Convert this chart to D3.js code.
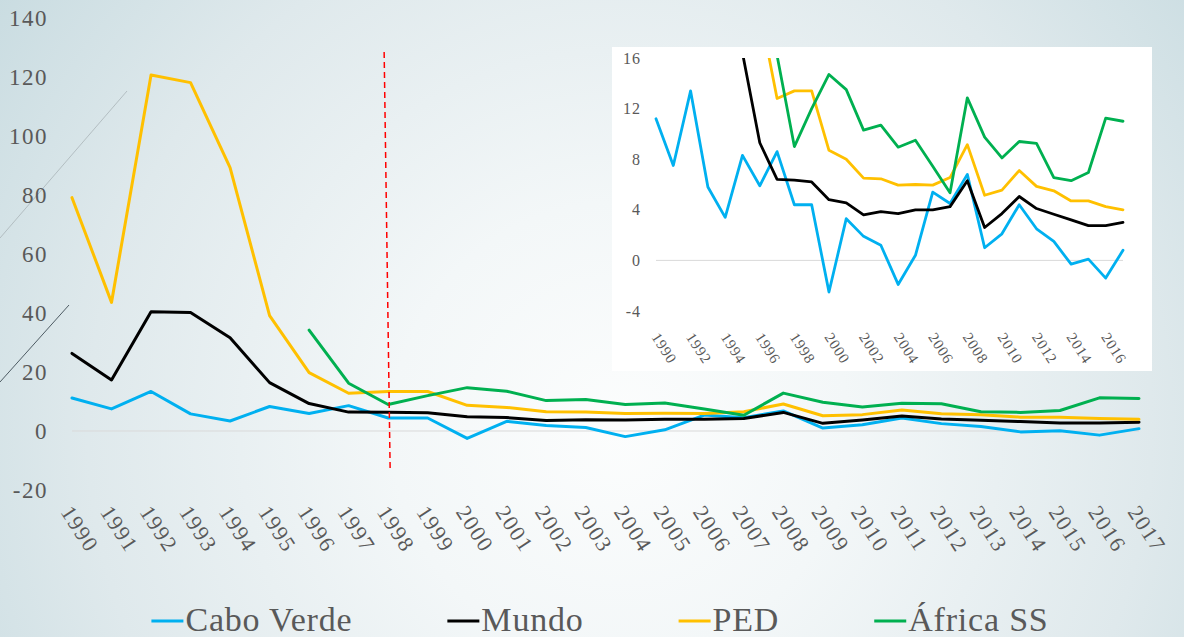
<!DOCTYPE html>
<html>
<head>
<meta charset="utf-8">
<style>
  body { margin: 0; }
  .serie { fill: none; stroke-linejoin: round; stroke-linecap: round; }
</style>
</head>
<body>
<svg id="container" width="1184" height="637"></svg>
<script src="https://cdn.jsdelivr.net/npm/d3@7/dist/d3.min.js"></script>
<script>
// anos (categorias)
const years = ["1990","1991","1992","1993","1994","1995","1996","1997","1998","1999",
               "2000","2001","2002","2003","2004","2005","2006","2007","2008","2009",
               "2010","2011","2012","2013","2014","2015","2016","2017"]

// taxa de inflação (%)
const caboVerde = [11.2, 7.5, 13.4, 5.8, 3.4, 8.3, 5.9, 8.6, 4.4, 4.4, -2.5, 3.3, 1.9, 1.2,
                   -1.9, 0.4, 5.4, 4.5, 6.8, 1.0, 2.1, 4.4, 2.5, 1.5, -0.3, 0.1, -1.4, 0.8]
const mundo = [26.3, 17.3, 40.4, 40.2, 31.6, 16.4, 9.3, 6.4, 6.35, 6.2, 4.8, 4.55, 3.6, 3.85,
               3.7, 4.0, 4.0, 4.25, 6.3, 2.6, 3.7, 5.05, 4.1, 3.65, 3.2, 2.75, 2.75, 3.0]
const ped = [79.1, 43.6, 120.7, 118.1, 89.3, 39.1, 19.8, 12.8, 13.4, 13.4, 8.7, 8.0, 6.5, 6.45,
             5.95, 6.0, 5.95, 6.55, 9.15, 5.15, 5.55, 7.1, 5.85, 5.5, 4.7, 4.7, 4.25, 4.0]
const africaSS = [null, null, null, null, null, null, 34.2, 16.2, 9.0, 12.0, 14.7, 13.5, 10.3, 10.7,
                  8.95, 9.5, 7.45, 5.35, 12.85, 9.75, 8.1, 9.4, 9.25, 6.55, 6.3, 6.95, 11.25, 11.0]

const seriesNames = ["Cabo Verde", "Mundo", "PED", "África SS"]
const seriesColors = ["#00b0f0", "#000000", "#ffc000", "#00b050"]
const seriesValues = [caboVerde, mundo, ped, africaSS]

const mainTicks = [-20, 0, 20, 40, 60, 80, 100, 120, 140]
const insetTicks = [-4, 0, 4, 8, 12, 16]
const insetYears = years.filter((d, i) => i % 2 == 0)

const serif = "'Liberation Serif'"
const grey = "#595959"

let svg = d3.select("#container")

// fundo
let defs = svg.append("defs")
let grad = defs.append("radialGradient")
    .attr("id", "bg")
    .attr("gradientUnits", "userSpaceOnUse")
    .attr("cx", 620).attr("cy", 430).attr("r", 760)
grad.append("stop").attr("offset", "0").attr("stop-color", "#fcfdfd")
grad.append("stop").attr("offset", "0.3").attr("stop-color", "#f3f7f8")
grad.append("stop").attr("offset", "0.7").attr("stop-color", "#dfe9ec")
grad.append("stop").attr("offset", "1").attr("stop-color", "#c9dce1")
svg.append("rect").attr("width", 1184).attr("height", 637).attr("fill", "url(#bg)")

// linhas decorativas do tema
svg.append("line").attr("x1", 0).attr("y1", 238).attr("x2", 127).attr("y2", 91)
    .attr("stroke", "#aab4b8").attr("stroke-width", 0.8)
svg.append("line").attr("x1", 0).attr("y1", 382).attr("x2", 69).attr("y2", 305)
    .attr("stroke", "#4d5b63").attr("stroke-width", 1)

// ---------- gráfico principal ----------
let xScale = d3.scalePoint().domain(years).range([72, 1139])
let yScale = d3.scaleLinear().domain([-20, 140]).range([490, 18])

let main = svg.append("g")

main.append("line")
    .attr("x1", xScale(years[0])).attr("x2", xScale(years[years.length - 1]))
    .attr("y1", yScale(0)).attr("y2", yScale(0))
    .attr("stroke", "#d9d9d9").attr("stroke-width", 1)

main.selectAll(".ylab").data(mainTicks).join("text")
    .attr("x", 48).attr("y", d => yScale(d)).attr("dy", "0.35em")
    .attr("text-anchor", "end").attr("font-size", 23)
    .attr("letter-spacing", 1.5)
    .style("font-family", serif).attr("fill", grey)
    .text(d => d)

main.selectAll(".xlab").data(years).join("text")
    .attr("transform", d => "translate(" + (xScale(d) - 12) + ",512) rotate(57)")
    .attr("font-size", 22).attr("letter-spacing", 1.5)
    .style("font-family", serif).attr("fill", grey)
    .text(d => d)

let mainLine = d3.line()
    .defined(d => d != null)
    .x((d, i) => xScale(years[i]))
    .y(d => yScale(d))

main.selectAll(".serie").data(seriesValues).join("path")
    .attr("class", "serie")
    .attr("d", mainLine)
    .attr("stroke", (d, i) => seriesColors[i])
    .attr("stroke-width", 3)

// linha vertical tracejada (1998)
main.append("line")
    .attr("x1", xScale("1998") - 4).attr("y1", 52)
    .attr("x2", xScale("1998") + 2).attr("y2", 470)
    .attr("stroke", "#ff0000").attr("stroke-width", 1.5)
    .attr("stroke-dasharray", "6,4")

// ---------- gráfico inserido (zoom) ----------
let inset = svg.append("g")
inset.append("rect").attr("x", 612).attr("y", 47).attr("width", 540).attr("height", 324).attr("fill", "#ffffff")

let xInset = d3.scalePoint().domain(years).range([656, 1123])
let yInset = d3.scaleLinear().domain([-4, 16]).range([311, 58])

defs.append("clipPath").attr("id", "insetClip")
    .append("rect").attr("x", 612).attr("y", yInset(16)).attr("width", 540).attr("height", yInset(-4) - yInset(16) + 10)

inset.append("line")
    .attr("x1", xInset(years[0])).attr("x2", xInset(years[years.length - 1]))
    .attr("y1", yInset(0)).attr("y2", yInset(0))
    .attr("stroke", "#d9d9d9").attr("stroke-width", 1)

inset.selectAll(".ylab").data(insetTicks).join("text")
    .attr("x", 641).attr("y", d => yInset(d)).attr("dy", "0.35em")
    .attr("text-anchor", "end").attr("font-size", 16).attr("letter-spacing", 1)
    .style("font-family", serif).attr("fill", grey)
    .text(d => d)

inset.selectAll(".xlab").data(insetYears).join("text")
    .attr("transform", d => "translate(" + (xInset(d) - 5) + ",337) rotate(57)")
    .attr("font-size", 15).attr("letter-spacing", 0.8)
    .style("font-family", serif).attr("fill", grey)
    .text(d => d)

let insetLine = d3.line()
    .defined(d => d != null)
    .x((d, i) => xInset(years[i]))
    .y(d => yInset(d))

inset.append("g").attr("clip-path", "url(#insetClip)")
    .selectAll(".serie").data(seriesValues).join("path")
    .attr("class", "serie")
    .attr("d", insetLine)
    .attr("stroke", (d, i) => seriesColors[i])
    .attr("stroke-width", 2.8)

// ---------- legenda ----------
let legend = svg.append("g")
let items = legend.selectAll("g").data(seriesNames).join("g")
items.append("line")
    .attr("x1", 0).attr("x2", 32).attr("y1", 621).attr("y2", 621)
    .attr("stroke", (d, i) => seriesColors[i]).attr("stroke-width", 3)
items.append("text")
    .attr("x", 34).attr("y", 631).attr("font-size", 34).attr("letter-spacing", 0.8)
    .style("font-family", serif).attr("fill", grey)
    .text(d => d)

// espaçamento centrado
let gap = 95
let widths = []
items.each(function () { widths.push(34 + d3.select(this).select("text").node().getComputedTextLength()) })
let total = d3.sum(widths) + gap * (widths.length - 1)
let xPos = 600 - total / 2
items.attr("transform", (d, i) => {
    let t = "translate(" + xPos + ",0)"
    xPos += widths[i] + gap
    return t
})
</script>
</body>
</html>
